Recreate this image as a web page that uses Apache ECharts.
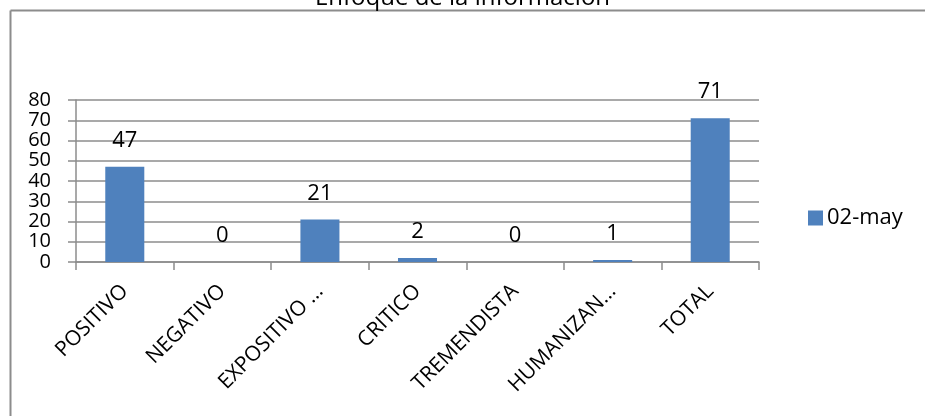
<!DOCTYPE html>
<html>
<head>
<meta charset="utf-8">
<script src="https://cdn.jsdelivr.net/npm/echarts@6/dist/echarts.min.js"></script>
<style>
html,body{margin:0;padding:0;background:#fff;}
#chart{width:925px;height:416px;}
</style>
</head>
<body>
<div id="chart"></div>
<script>
var titleText = 'Enfoque de la información';
var categories = ['POSITIVO', 'NEGATIVO', 'EXPOSITIVO …', 'CRITICO', 'TREMENDISTA', 'HUMANIZAN…', 'TOTAL'];
var seriesName = '02-may';
var values = [47, 0, 21, 2, 0, 1, 71];

var font = '"Open Sans", sans-serif';
var gray = '#8c8c8c';

var chart = echarts.init(document.getElementById('chart'));
var option = {
    animation: false,
    title: {
        text: titleText,
        left: 'center',
        top: -19,
        textStyle: {fontFamily: font, fontSize: 24, fontWeight: 'normal', color: '#000'}
    },
    // 图框（只有上边和左边）
    graphic: [
        {type: 'line', shape: {x1: 10.5, y1: 10.5, x2: 925, y2: 10.5}, style: {stroke: gray, lineWidth: 2}},
        {type: 'line', shape: {x1: 10.5, y1: 10.5, x2: 10.5, y2: 416}, style: {stroke: gray, lineWidth: 2}}
    ],
    legend: {
        data: [seriesName],
        left: 803,
        top: 202,
        itemWidth: 15,
        itemHeight: 15,
        itemGap: 6,
        icon: 'rect',
        textStyle: {fontFamily: font, fontSize: 22, color: '#000', padding: [0, 0, 0, -1]}
    },
    grid: {left: 76, right: 166, top: 100, bottom: 154},
    xAxis: {
        type: 'category',
        data: categories,
        axisLine: {lineStyle: {color: gray, width: 1.5}},
        axisTick: {show: true, length: 8, alignWithLabel: false, lineStyle: {color: gray, width: 1.5}},
        axisLabel: {
            rotate: 45,
            interval: 0,
            margin: 26,
            fontFamily: font,
            fontSize: 21,
            color: '#000'
        }
    },
    yAxis: {
        type: 'value',
        min: 0,
        max: 80,
        interval: 10,
        axisLine: {show: true, lineStyle: {color: gray, width: 1.5}},
        axisTick: {show: true, length: 8, inside: false, lineStyle: {color: gray, width: 1.5}},
        axisLabel: {fontFamily: font, fontSize: 20, color: '#000', margin: 25, lineHeight: 20},
        splitLine: {lineStyle: {color: gray, width: 1.5}}
    },
    series: [{
        name: seriesName,
        type: 'bar',
        data: values,
        barWidth: '40%',
        itemStyle: {color: '#4f81bd'},
        label: {
            show: true,
            position: 'top',
            distance: 15,
            fontFamily: font,
            fontSize: 22,
            color: '#000'
        }
    }]
};
chart.setOption(option);
</script>
</body>
</html>
